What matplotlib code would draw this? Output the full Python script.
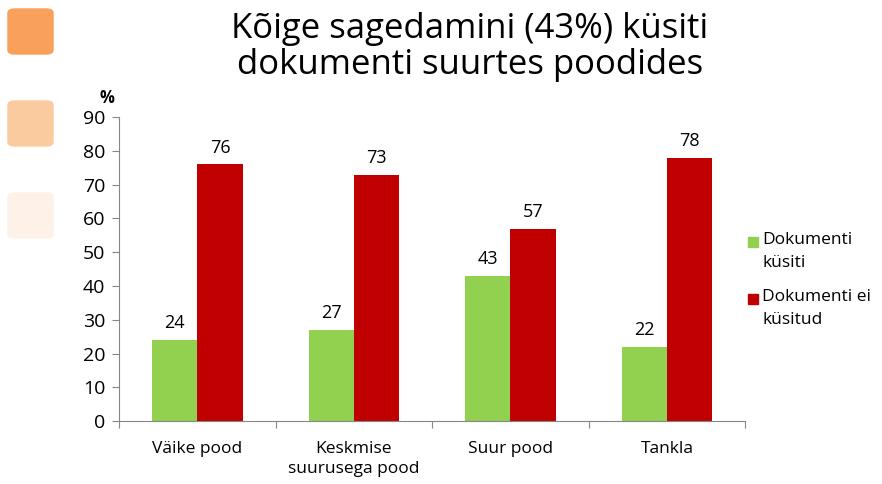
import numpy as np
import matplotlib.pyplot as plt
from matplotlib.patches import FancyBboxPatch, Rectangle

categories = ["Väike pood", "Keskmise\nsuurusega pood", "Suur pood", "Tankla"]
kysiti = [24, 27, 43, 22]
ei_kysitud = [76, 73, 57, 78]
series_names = ["Dokumenti\nküsiti", "Dokumenti ei\nküsitud"]
series_colors = ["#92D050", "#C00000"]
title = "Kõige sagedamini (43%) küsiti\ndokumenti suurtes poodides"

plt.rcParams['font.family'] = ['Open Sans', 'DejaVu Sans']

fig = plt.figure(figsize=(8.82, 4.84), dpi=100)
ax = fig.add_axes([0.135, 0.130, 0.71, 0.628])

x = np.arange(len(categories))
w = 0.29
b1 = ax.bar(x - w / 2, kysiti, w, color=series_colors[0])
b2 = ax.bar(x + w / 2, ei_kysitud, w, color=series_colors[1])

for bars, vals in ((b1, kysiti), (b2, ei_kysitud)):
    for r, v in zip(bars, vals):
        ax.text(r.get_x() + r.get_width() / 2, v + 2.3, str(v),
                ha="center", va="bottom", fontsize=13)

ax.set_xlim(-0.5, len(categories) - 0.5)
ax.set_ylim(0, 90)
ax.set_yticks(range(0, 91, 10))
ax.set_xticks(np.arange(-0.5, len(categories), 1.0))
ax.set_xticklabels([])
ax.set_xticks(x, minor=True)
ax.set_xticklabels(categories, minor=True, fontsize=12.5, linespacing=1.4)
ax.tick_params(axis="x", which="minor", length=0, pad=14)
ax.tick_params(axis="x", which="major", length=5, color="#868686")
ax.tick_params(axis="y", length=5, color="#868686", labelsize=14, pad=5)
for s in ("top", "right"):
    ax.spines[s].set_visible(False)
for s in ("left", "bottom"):
    ax.spines[s].set_color("#868686")

fig.text(107 / 882, 1 - 98 / 484, "%", fontsize=12, fontweight="bold",
         ha="center", va="center")
fig.text(470 / 882, 1 - 47 / 484, title, fontsize=25, ha="center",
         va="center", linespacing=1.05)

# legend drawn by hand so the square sits beside the first text line
for i, (name, c) in enumerate(zip(series_names, series_colors)):
    ytop = 232 + i * 57
    fig.patches.append(Rectangle((748 / 882, 1 - (ytop + 15) / 484), 10 / 882, 10 / 484,
                                 transform=fig.transFigure, color=c))
    fig.text(762 / 882, 1 - ytop / 484, name, fontsize=12.5, ha="left",
             va="top", linespacing=1.55)

for y0, c in ((9, "#F9A05A"), (101, "#FBCBA0"), (193, "#FEF1E8")):
    fig.patches.append(FancyBboxPatch((8 / 882, 1 - (y0 + 45) / 484), 45 / 882, 45 / 484,
                                      boxstyle="round,pad=0,rounding_size=0.008",
                                      transform=fig.transFigure, color=c))

fig.savefig("out.png", dpi=100)
